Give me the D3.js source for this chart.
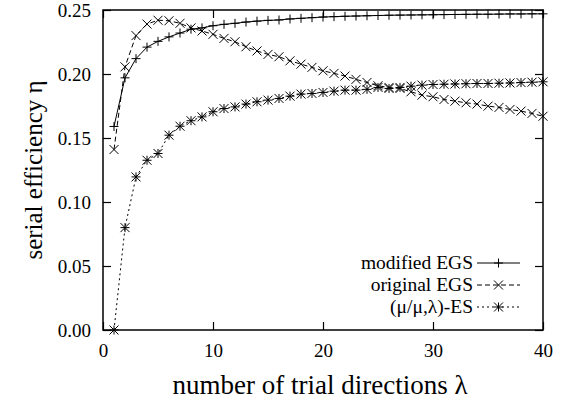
<!DOCTYPE html>
<html>
<head>
<meta charset="utf-8">
<script src="https://cdn.jsdelivr.net/npm/d3@7"></script>
</head>
<body style="margin:0; background:#fff">
<div id="chart"></div>
<script>
// number of trial directions lambda = 1..40
const lambdas = d3.range(1, 41);

const modifiedEGS = [0.159, 0.197, 0.212, 0.221, 0.2255, 0.229, 0.232, 0.235, 0.236, 0.2377,
  0.2388, 0.2396, 0.2406, 0.2413, 0.2419, 0.2422, 0.243, 0.2435, 0.244, 0.2445,
  0.2448, 0.2451, 0.2453, 0.2455, 0.2457, 0.2459, 0.246, 0.2461, 0.2462, 0.2463,
  0.2464, 0.2465, 0.2466, 0.2467, 0.2467, 0.2468, 0.2469, 0.2469, 0.247, 0.247];

const originalEGS = [0.141, 0.2056, 0.230, 0.239, 0.242, 0.2416, 0.2396, 0.236, 0.2336, 0.231,
  0.2278, 0.2252, 0.2213, 0.218, 0.2153, 0.2135, 0.2103, 0.2077, 0.2052, 0.2025,
  0.2005, 0.1984, 0.1958, 0.1934, 0.1908, 0.1895, 0.1887, 0.1861, 0.1835, 0.1822,
  0.1801, 0.1788, 0.1775, 0.1765, 0.1749, 0.1739, 0.1723, 0.171, 0.1692, 0.167];

const muLambdaES = [0.000, 0.080, 0.1196, 0.1326, 0.1379, 0.1522, 0.1592, 0.1635, 0.1665, 0.1705,
  0.173, 0.1743, 0.1765, 0.1783, 0.1796, 0.1809, 0.1827, 0.1843, 0.1848, 0.1856,
  0.1866, 0.1874, 0.1874, 0.188, 0.1895, 0.1887, 0.1895, 0.1905, 0.1913, 0.1918,
  0.192, 0.1922, 0.1924, 0.1926, 0.1926, 0.1928, 0.193, 0.1933, 0.1936, 0.1939];

const seriesNames = ["modified EGS", "original EGS", "(\u03bc/\u03bc,\u03bb)-ES"];
const xTicks = [0, 10, 20, 30, 40];
const yTicks = [0.00, 0.05, 0.10, 0.15, 0.20, 0.25];

const serif = "Liberation Serif";

// set the dimensions and margins of the graph
const margin = {top: 10, right: 21, bottom: 73, left: 103},
    width = 564 - margin.left - margin.right,
    height = 403 - margin.top - margin.bottom;

const svg = d3.select("#chart")
  .append("svg")
    .attr("width", 564)
    .attr("height", 403)
    .attr("font-family", serif)
  .append("g")
    .attr("transform", `translate(${margin.left},${margin.top})`);

const x = d3.scaleLinear().domain([0, 40]).range([0, width]);
const y = d3.scaleLinear().domain([0, 0.25]).range([height, 0]);

const tickLen = 8;

// axes with inward ticks (gnuplot look)
svg.append("g")
  .attr("transform", `translate(0,${height})`)
  .call(d3.axisBottom(x).tickValues(xTicks).tickSize(-tickLen).tickPadding(14).tickFormat(d3.format("d")))
  .call(g => g.select(".domain").remove());
svg.append("g")
  .call(d3.axisTop(x).tickValues(xTicks).tickSize(-tickLen).tickFormat(""))
  .call(g => g.select(".domain").remove());
svg.append("g")
  .call(d3.axisLeft(y).tickValues(yTicks).tickSize(-tickLen).tickPadding(12).tickFormat(d3.format(".2f")))
  .call(g => g.select(".domain").remove());
svg.append("g")
  .attr("transform", `translate(${width},0)`)
  .call(d3.axisRight(y).tickValues(yTicks).tickSize(-tickLen).tickFormat(""))
  .call(g => g.select(".domain").remove());

svg.selectAll(".tick").attr("font-family", serif);
svg.selectAll(".tick line").attr("stroke", "#000").attr("stroke-width", 1.2);
svg.selectAll(".tick text")
  .attr("font-size", 19)
  .attr("font-family", serif)
  .attr("fill", "#000");

// frame
svg.append("rect")
  .attr("width", width)
  .attr("height", height)
  .attr("fill", "none")
  .attr("stroke", "#000")
  .attr("stroke-width", 1.5);

// marker paths
const s = 4.5;
function plusPath(cx, cy) {
  return `M${cx - s},${cy}H${cx + s}M${cx},${cy - s}V${cy + s}`;
}
function crossPath(cx, cy) {
  return `M${cx - s},${cy - s}L${cx + s},${cy + s}M${cx - s},${cy + s}L${cx + s},${cy - s}`;
}
function starPath(cx, cy) {
  return plusPath(cx, cy) + crossPath(cx, cy);
}

const series = [
  {name: seriesNames[0], values: modifiedEGS, dash: null, marker: plusPath},
  {name: seriesNames[1], values: originalEGS, dash: "5,3", marker: crossPath},
  {name: seriesNames[2], values: muLambdaES, dash: "2,3", marker: starPath}
];

const line = d3.line()
  .x((d, i) => x(lambdas[i]))
  .y(d => y(d));

series.forEach(function(sr) {
  svg.append("path")
    .datum(sr.values)
    .attr("fill", "none")
    .attr("stroke", "#000")
    .attr("stroke-width", 1)
    .attr("stroke-dasharray", sr.dash)
    .attr("d", line);

  svg.append("path")
    .attr("fill", "none")
    .attr("stroke", "#000")
    .attr("stroke-width", 1)
    .attr("d", sr.values.map((v, i) => sr.marker(x(lambdas[i]), y(v))).join(""));
});

// legend
const legend = svg.append("g");
series.forEach(function(sr, i) {
  const ly = 253 + i * 22;
  legend.append("text")
    .attr("x", 370)
    .attr("y", ly + 6)
    .attr("text-anchor", "end")
    .attr("font-family", serif)
    .attr("font-size", 19.5)
    .text(sr.name);
  legend.append("path")
    .attr("fill", "none")
    .attr("stroke", "#000")
    .attr("stroke-width", 1)
    .attr("stroke-dasharray", sr.dash)
    .attr("d", `M374,${ly}H417`);
  legend.append("path")
    .attr("fill", "none")
    .attr("stroke", "#000")
    .attr("stroke-width", 1)
    .attr("d", sr.marker(395.5, ly));
});

// axis titles
svg.append("text")
  .attr("x", width / 2 - 3)
  .attr("y", height + 64)
  .attr("text-anchor", "middle")
  .attr("font-family", serif)
  .attr("font-size", 27)
  .text("number of trial directions \u03bb");

svg.append("text")
  .attr("transform", `translate(${42 - margin.left},${height / 2}) rotate(-90)`)
  .attr("text-anchor", "middle")
  .attr("font-family", serif)
  .attr("font-size", 25)
  .text("serial efficiency \u03b7");
</script>
</body>
</html>
